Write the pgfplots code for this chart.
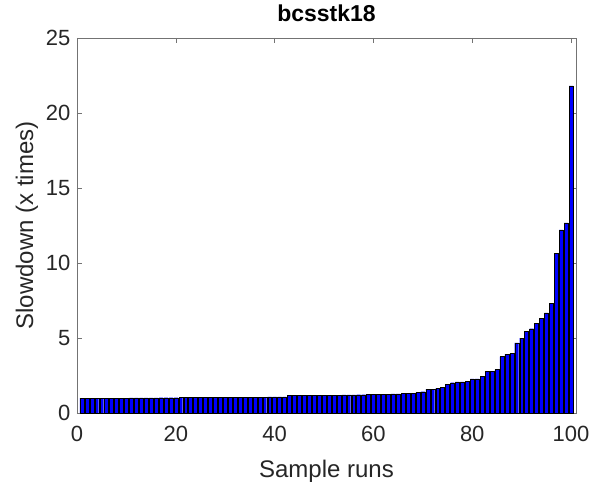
\documentclass[border=0pt]{standalone}
\usepackage{pgfplots}
\pgfplotsset{compat=1.18}
\usepackage{fontspec}
\setmainfont{Liberation Sans}
\definecolor{txt}{gray}{0.15}
\definecolor{axl}{gray}{0.45}
\begin{document}
\begin{tikzpicture}
\useasboundingbox (-77pt,-69pt) rectangle (512pt,413pt);
\begin{axis}[
  at={(0,0)}, anchor=south west,
  scale only axis, width=499pt, height=375pt,
  xmin=0, xmax=101, ymin=0, ymax=25,
  xtick={0,20,40,60,80,100}, ytick={0,5,10,15,20,25},
  tick align=inside, xtick pos=both, ytick pos=both,
  major tick length=5pt,
  axis line style={draw=axl, line width=0.6pt},
  tick style={draw=axl, line width=0.6pt},
  /pgf/number format/assume math mode=true,
  tick label style={font=\fontsize{22}{26}\selectfont, text=txt},
  xticklabel style={yshift=-10pt},
  yticklabel style={xshift=-3pt},
  label style={font=\fontsize{24}{28}\selectfont, text=txt},
  xlabel={Sample runs},
  ylabel={Slowdown (x times)},
  xlabel style={at={(axis description cs:0.5,-0.1707)}, anchor=base},
  ylabel style={at={(axis description cs:-0.1002,0.5)}, anchor=center},
  title={\textbf{bcsstk18}},
  title style={font=\fontsize{23}{27}\selectfont, text=black, at={(axis description cs:0.5,1.0293)}, anchor=base},
]
\addplot[ybar, bar width=0.8, fill={rgb,255:red,0;green,0;blue,255}, draw=black, line width=0.35pt] coordinates {
(1,1.0)(2,1.0)(3,1.0)(4,1.0)(5,1.0)(6,1.0)(7,1.0)(8,1.0)(9,1.0)(10,1.0)
(11,1.01)(12,1.01)(13,1.01)(14,1.01)(15,1.01)(16,1.01)(17,1.02)(18,1.02)(19,1.02)(20,1.02)
(21,1.03)(22,1.03)(23,1.03)(24,1.03)(25,1.03)(26,1.04)(27,1.04)(28,1.04)(29,1.04)(30,1.05)
(31,1.05)(32,1.05)(33,1.05)(34,1.05)(35,1.06)(36,1.06)(37,1.06)(38,1.06)(39,1.07)(40,1.07)
(41,1.07)(42,1.07)(43,1.18)(44,1.18)(45,1.18)(46,1.18)(47,1.19)(48,1.19)(49,1.19)(50,1.19)
(51,1.2)(52,1.2)(53,1.2)(54,1.21)(55,1.21)(56,1.21)(57,1.22)(58,1.22)(59,1.23)(60,1.23)
(61,1.24)(62,1.25)(63,1.26)(64,1.27)(65,1.28)(66,1.29)(67,1.29)(68,1.31)(69,1.38)(70,1.42)
(71,1.6)(72,1.6)(73,1.64)(74,1.71)(75,1.89)(76,2.02)(77,2.07)(78,2.07)(79,2.09)(80,2.27)
(81,2.27)(82,2.44)(83,2.76)(84,2.78)(85,2.89)(86,3.76)(87,3.93)(88,3.98)(89,4.67)(90,5.0)
(91,5.44)(92,5.62)(93,6.0)(94,6.33)(95,6.67)(96,7.31)(97,10.64)(98,12.2)(99,12.67)(100,21.8)
};
\end{axis}
\end{tikzpicture}
\end{document}
